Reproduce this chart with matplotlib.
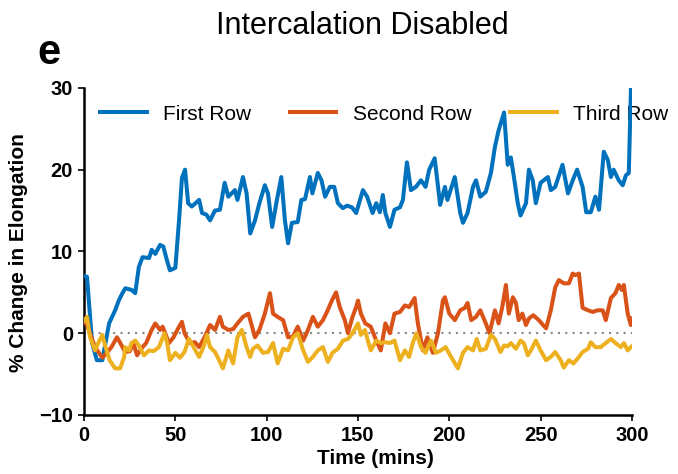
import numpy as np
import matplotlib.pyplot as plt

plt.rcParams['font.family'] = ['Liberation Sans', 'DejaVu Sans']

# First Row (blue)
t1 = [0, 1.6, 4.4, 7, 10, 13.7, 17, 19, 21, 22.6, 26, 28, 30, 32, 35.6, 37, 39, 41.6, 43.4,
      45.4, 47, 50, 52, 53.6, 55.3, 57, 59, 63, 64.6, 67, 69, 71.7, 74.4, 77, 79, 82.6, 84,
      87, 89, 91, 93.6, 96, 99, 100.7, 103, 105.6, 108, 110, 111.7, 113.8, 117, 119, 121,
      123.7, 125, 128, 130, 132, 134.6, 137, 139, 141.7, 144, 146.7, 149, 152.7, 155, 158,
      160, 162, 163.6, 165, 167.5, 170, 173, 174.6, 176.8, 179, 181.7, 184.5, 187, 189, 192,
      195, 197.6, 199, 203, 206, 207.5, 210, 213, 214.6, 217, 220, 222.8, 225, 227, 230, 232,
      233.7, 235.4, 237.5, 239, 242, 243.6, 245.7, 247.4, 250, 254, 255.6, 258, 262, 265,
      267.6, 270, 273, 275, 277.5, 280, 282, 284.6, 286.8, 288.5, 290, 292.8, 295, 296.7,
      298.3, 299.5, 300]
y1 = [7, 6.9, -1.2, -3.3, -3.3, 1.2, 2.8, 4, 4.9, 5.5, 5.3, 4.9, 8.1, 9.3, 9.2, 10.2, 9.7,
      10.8, 10.6, 8.9, 7.7, 8.0, 13.8, 19, 20, 15.9, 15.5, 16.3, 14.7, 14.5, 13.8, 15, 15.1,
      18.4, 16.7, 17.5, 16.3, 19.1, 17.1, 12.2, 13.8, 15.9, 18.1, 17.1, 13, 16.3, 19.1, 13.8,
      11, 13.5, 13.6, 16.3, 16.4, 19.1, 17.1, 19.6, 18.7, 16.7, 17.9, 17.9, 15.9, 15.3, 15.6,
      15.4, 14.7, 17.5, 16.7, 14.7, 15.9, 14.8, 16.9, 14.7, 13, 15.1, 15.4, 16.3, 20.9, 17.5,
      17.9, 18.7, 17.9, 20, 21.4, 15.7, 17.9, 16.3, 19.1, 14.7, 13.5, 14.7, 17.9, 18.7, 16.7,
      17.3, 19.6, 22.8, 24.8, 27, 20.6, 21.5, 19.1, 15.9, 14.4, 15.9, 20, 18.7, 15.9, 18.4,
      19.1, 17.5, 17.9, 20.6, 17.1, 18.7, 20, 17.9, 14.8, 14.8, 16.7, 15.1, 22.2, 21.2, 19.1,
      20, 18.7, 18.1, 19.3, 19.6, 30, 33]

# Second Row (orange)
t2 = [0, 1.6, 6, 10, 12, 15, 18, 19.6, 22.5, 25, 27, 29, 32, 34, 37, 39, 41.6, 43, 46.5, 49,
      52, 53.6, 55, 58, 60.7, 63, 66, 69, 71.7, 74.4, 76, 79, 81.6, 84, 87, 90, 92, 93.6, 96,
      99, 101.8, 103.5, 106, 109, 111.7, 114.4, 117, 120, 122.6, 125.3, 128, 130.8, 133,
      135.7, 138, 140, 142.8, 144.5, 147, 149, 150, 151.6, 154, 157, 160, 162.5, 165, 167.5,
      170, 173, 175.7, 178, 181, 182.8, 185.5, 188, 191, 193.8, 196.5, 197.6, 200, 203, 206,
      208.5, 210, 212, 214.6, 217, 220, 222, 225, 227, 229, 231, 232.6, 234.8, 236.5, 238,
      240, 242, 243.6, 246, 249, 253, 255.6, 258, 260, 262.7, 265.5, 267.6, 269, 271, 273,
      276, 278.6, 281, 284, 285.7, 288.5, 291, 292.8, 294.5, 295.6, 297.7, 299.4, 300]
y2 = [1.5, 1.0, -1.7, -3, -2.5, -1.7, -0.5, -1.1, -2.3, -2.2, -1.2, -2.7, -1.7, -1.2, 0.4,
      1.2, 0.4, 0.8, -1.2, -0.5, 0.8, 1.4, 0, -1.2, -1.1, -1.7, -0.5, 1, 0.4, 2, 0.8, 0.4,
      0.5, 1.2, 2, 2.4, 0.8, -0.5, 0.4, 2.4, 4.9, 2.4, 2, 1.6, -0.5, -0.4, 0.8, -0.9, 0.4, 2,
      0.8, 1.6, 2.6, 4, 5, 3.2, 1.6, 0, 2, 3.2, 4, 2.4, 1.2, 0.8, -0.9, -2.1, 1.2, 0, 2.4,
      2.6, 3.4, 3.2, 4.3, 1.2, -2.1, -0.5, -2.4, 0, 4, 4.4, 2.4, 1.6, 2.8, 3.1, 3.7, 1.6, 2,
      2.8, 1.2, 0, 2.8, 1.2, 3.2, 5.9, 2.4, 4.4, 3.7, 1.6, 2.4, 1, 1.8, 2.2, 1.6, 0.6, 2.8,
      5.6, 6.5, 6.1, 6.1, 7.3, 7.1, 7.3, 3.1, 2.8, 2.6, 2.8, 2.8, 1.6, 4.3, 4.9, 5.9, 5.3,
      5.9, 2.4, 1, 1.8]

# Third Row (yellow)
t3 = [0, 1.6, 3.3, 6, 8, 10, 11.5, 14, 17, 19.7, 22, 22.5, 24.6, 26, 28, 30, 32.8, 35.6,
      38, 41, 44, 45.5, 47, 50, 52.5, 55, 57.4, 60, 63, 65.7, 67.3, 69, 71.7, 74.4, 76, 79,
      81.6, 84, 86.4, 89, 90.9, 92.5, 95, 98, 100.7, 103.5, 106, 109, 111.7, 114.4, 117, 120,
      122.6, 125.3, 128, 130.8, 133.5, 136, 139, 141.8, 144.5, 147, 149, 150, 151.6, 153.8,
      155.4, 157, 160, 162.5, 164.7, 167.5, 170, 173, 175.7, 178, 180, 182, 184.5, 187, 190,
      192.7, 195.4, 198, 201, 204.7, 207.5, 210, 213, 215, 217, 220, 222.8, 225, 228, 230,
      232, 233.7, 236.5, 239, 240.8, 243, 244.7, 247.4, 250, 253, 255.6, 258, 261, 262.7,
      265.5, 268, 271, 273, 276, 277.5, 280, 283, 285.7, 288.5, 291, 294, 295.6, 297.7,
      299.4, 300]
y3 = [1.5, 2, -0.5, -2.1, -1.1, -0.2, -1.5, -3.3, -4.3, -4.3, -2.9, -1.7, -2.1, -1.2, -0.9,
      -1.5, -2.7, -2.1, -2.2, -1.7, 0, -1.2, -3.3, -2.4, -3, -2.3, -0.7, -1.7, -2.9, -1.5,
      -0.2, -1.7, -2.3, -3.5, -4.3, -2.1, -3.7, -0.5, 0.4, -1.7, -2.9, -1.9, -1.5, -2.4, -2.3,
      -1.2, -3.7, -1.9, -2.1, -0.5, 0, -2.1, -3.5, -2.9, -2.1, -1.7, -3.5, -2.4, -1.9, -0.9,
      -0.7, 0, 0.8, 1.2, -0.2, 0.4, -0.9, -2.1, -0.9, -1.2, -1.1, -1.2, -0.9, -3.3, -2.1, -2.9,
      -1.2, 0, -1.7, -2.4, -0.9, -2.4, -2.1, -1.7, -2.9, -4.3, -2.4, -1.7, -2.1, -0.7, -2.1,
      -1.9, -0.2, -0.7, -2.3, -1.5, -1.6, -1.2, -1.9, -0.9, -1.2, -2.7, -2.1, -0.9, -2.1, -3.3,
      -2.9, -2.3, -3.3, -4.2, -3.3, -3.7, -2.9, -2.3, -1.9, -1.1, -1.7, -1.7, -1.2, -0.7,
      -1.2, -1.7, -1.2, -2.1, -1.7, -1.6]

series_labels = ["First Row", "Second Row", "Third Row"]
colors = ["#0072BD", "#D95319", "#EDB120"]

fig = plt.figure(figsize=(6.78, 4.74), dpi=100)
ax = fig.add_axes([0.124, 0.1245, 0.808, 0.690])

ax.axhline(0, color="#888888", linestyle=(0, (1, 2.5)), linewidth=1.5, zorder=1)
for t, y, lab, c in zip([t1, t2, t3], [y1, y2, y3], series_labels, colors):
    ax.plot(t, y, color=c, linewidth=2.9, label=lab, solid_joinstyle="round", zorder=3)

ax.set_xlim(0, 300)
ax.set_ylim(-10, 30)
ax.set_xticks([0, 50, 100, 150, 200, 250, 300])
ax.set_yticks([-10, 0, 10, 20, 30])

for s in ["top", "right"]:
    ax.spines[s].set_visible(False)
for s in ["left", "bottom"]:
    ax.spines[s].set_linewidth(1.8)
ax.tick_params(direction="out", length=4, width=1.2, labelsize=14.5, pad=4)
for lbl in ax.get_xticklabels() + ax.get_yticklabels():
    lbl.set_fontweight("bold")

ax.set_xlabel("Time (mins)", fontsize=15, fontweight="bold")
ax.set_ylabel("% Change in Elongation", fontsize=15, fontweight="bold")
ax.xaxis.set_label_coords(0.531, -0.105)
ax.yaxis.set_label_coords(-0.103, 0.498)

leg = ax.legend(loc="center left", bbox_to_anchor=(100 / 678, 1 - 114 / 474),
                bbox_transform=fig.transFigure, ncol=3, frameon=False, fontsize=15,
                handlelength=2.25, columnspacing=1.85, handletextpad=0.77,
                borderaxespad=0, borderpad=0)
leg.set_zorder(2)

fig.text(0.535, 0.945, "Intercalation Disabled", ha="center", va="center", fontsize=22)
fig.text(0.055, 0.888, "e", ha="left", va="center", fontsize=30, fontweight="bold")

fig.savefig("out.png", dpi=100)
